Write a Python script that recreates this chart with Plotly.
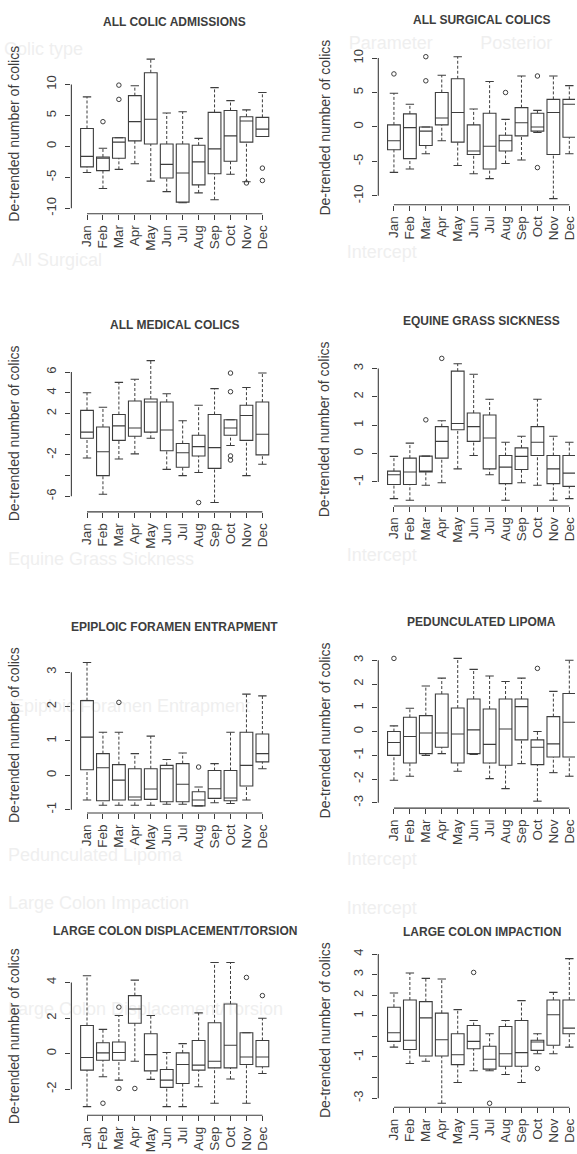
import plotly.graph_objects as go

W, H = 577, 1154

months = ["Jan", "Feb", "Mar", "Apr", "May", "Jun", "Jul", "Aug", "Sep", "Oct", "Nov", "Dec"]
month_idx = list(range(1, 13))
ylabel = "De-trended number of colics"

# ---------------- data ----------------
# ALL COLIC ADMISSIONS
p1_title = "ALL COLIC ADMISSIONS"
p1_q1 = [-3.3, -3.9, -1.9, 0.9, 0.4, -5.1, -9.0, -6.2, -4.4, -2.4, 0.7, 1.6]
p1_med = [-1.6, -1.9, 0.7, 4.0, 4.4, -2.9, -4.3, -2.5, -0.4, 1.7, 4.1, 2.8]
p1_q3 = [2.9, -1.7, 1.4, 8.2, 11.9, 0.4, 0.4, 0.2, 5.5, 5.8, 4.8, 4.7]
p1_lo = [-4.2, -6.8, -3.7, -2.8, -5.6, -7.3, -9.1, -7.5, -8.6, -4.5, -5.7, 1.6]
p1_hi = [8.0, -0.3, 1.4, 9.8, 14.1, 5.4, 5.6, 1.3, 9.5, 7.4, 5.9, 8.7]
p1_out_m = [2, 3, 3, 11, 12, 12]
p1_out_v = [4.0, 9.9, 7.6, -5.9, -3.5, -5.5]
p1_yticks = [-10, -5, 0, 5, 10]
p1_ytext = ["-10", "-5", "0", "5", "10"]

# ALL SURGICAL COLICS
p2_title = "ALL SURGICAL COLICS"
p2_q1 = [-3.3, -4.6, -2.7, 0.3, -2.2, -4.0, -6.1, -3.5, -1.3, -0.6, -4.0, -1.5]
p2_med = [-2.0, -0.1, -0.6, 1.3, 2.1, -3.5, -2.8, -2.0, 0.6, 0.0, 2.1, 3.3]
p2_q3 = [0.3, 1.9, 0.0, 5.0, 7.0, 0.3, 2.0, -1.2, 2.8, 2.0, 4.0, 4.0]
p2_lo = [-6.6, -6.1, -3.9, -2.0, -5.6, -6.8, -7.5, -5.3, -4.8, -0.8, -10.4, -3.9]
p2_hi = [4.9, 3.3, 0.0, 7.5, 10.2, 2.6, 6.6, 1.1, 7.4, 2.4, 7.4, 6.0]
p2_out_m = [1, 3, 3, 8, 10, 10]
p2_out_v = [7.7, 10.2, 6.7, 5.0, 7.4, -5.9]
p2_yticks = [-10, -5, 0, 5, 10]
p2_ytext = ["-10", "-5", "0", "5", "10"]

# ALL MEDICAL COLICS
p3_title = "ALL MEDICAL COLICS"
p3_q1 = [-0.4, -4.0, -0.6, -0.2, 0.2, -1.6, -3.2, -2.1, -3.3, -0.1, -0.6, -2.0]
p3_med = [0.2, -1.7, 0.8, 0.6, 3.1, 0.4, -1.8, -1.2, -1.3, 0.6, 1.8, 0.0]
p3_q3 = [2.3, 0.7, 1.9, 3.2, 3.4, 3.1, -0.9, -0.1, 1.9, 1.4, 2.8, 3.1]
p3_lo = [-2.3, -5.8, -2.4, -1.9, -0.4, -3.4, -4.0, -3.7, -6.6, -1.1, -4.0, -2.9]
p3_hi = [4.0, 2.6, 5.0, 5.3, 7.1, 3.9, 1.3, 2.8, 4.4, 1.4, 4.5, 5.9]
p3_out_m = [8, 10, 10, 10, 10]
p3_out_v = [-6.6, 5.9, 4.1, -2.1, -2.5]
p3_yticks = [-6, -4, -2, 0, 2, 4, 6]
p3_ytext = ["-6", "", "-2", "", "2", "4", "6"]

# EQUINE GRASS SICKNESS
p4_title = "EQUINE GRASS SICKNESS"
p4_q1 = [-1.09, -1.09, -0.65, -0.16, 0.84, 0.43, -0.54, -1.06, -0.56, -0.07, -1.06, -1.16]
p4_med = [-0.75, -0.65, -0.62, 0.43, 1.06, 0.95, 0.55, -0.48, -0.10, 0.40, -0.54, -0.69]
p4_q3 = [-0.62, -0.16, -0.09, 0.95, 2.91, 1.43, 1.36, -0.07, 0.20, 0.95, -0.07, -0.07]
p4_lo = [-1.59, -1.65, -1.12, -1.03, -0.54, -0.07, -0.75, -1.65, -1.03, -1.12, -1.65, -1.59]
p4_hi = [-0.10, 0.37, -0.09, 1.16, 3.17, 2.80, 1.92, 0.40, 0.61, 1.92, 0.61, 0.40]
p4_out_m = [3, 4]
p4_out_v = [1.19, 3.36]
p4_yticks = [-1, 0, 1, 2, 3]
p4_ytext = ["-1", "0", "1", "2", "3"]

# EPIPLOIC FORAMEN ENTRAPMENT
p5_title = "EPIPLOIC FORAMEN ENTRAPMENT"
p5_q1 = [0.16, -0.74, -0.72, -0.72, -0.70, -0.77, -0.77, -0.89, -0.67, -0.74, -0.31, 0.39]
p5_med = [1.11, 0.22, -0.14, -0.63, -0.40, 0.19, -0.26, -0.72, -0.39, -0.66, 0.29, 0.63]
p5_q3 = [2.17, 0.63, 0.31, 0.19, 0.19, 0.29, 0.34, -0.48, 0.14, 0.14, 1.25, 1.20]
p5_lo = [-0.72, -0.87, -0.87, -0.87, -0.87, -0.84, -0.84, -0.89, -0.80, -0.82, -0.72, 0.19]
p5_hi = [3.28, 1.25, 1.25, 0.63, 1.14, 0.46, 0.65, -0.34, 0.34, 1.25, 2.36, 2.31]
p5_out_m = [3, 8]
p5_out_v = [2.12, 0.24]
p5_yticks = [-1, 0, 1, 2, 3]
p5_ytext = ["-1", "0", "1", "2", "3"]

# PEDUNCULATED LIPOMA
p6_title = "PEDUNCULATED LIPOMA"
p6_q1 = [-1.0, -1.32, -0.93, -0.66, -1.32, -0.93, -1.32, -1.42, -0.35, -1.39, -1.07, -1.07]
p6_med = [-0.46, -0.21, -0.06, -0.06, -0.10, 0.07, -0.54, 0.11, 1.05, -0.66, -0.52, 0.39]
p6_q3 = [0.0, 0.6, 0.67, 1.58, 0.99, 1.37, 0.95, 1.37, 1.37, -0.35, 0.63, 1.60]
p6_lo = [-2.05, -1.88, -1.0, -0.93, -1.67, -0.96, -1.98, -2.40, -1.35, -2.93, -1.73, -1.88]
p6_hi = [0.24, 0.98, 1.92, 2.25, 3.08, 2.62, 2.34, 2.11, 2.25, 0.0, 1.69, 3.0]
p6_out_m = [1, 10]
p6_out_v = [3.08, 2.66]
p6_yticks = [-3, -2, -1, 0, 1, 2, 3]
p6_ytext = ["-3", "-2", "-1", "0", "1", "2", "3"]

# LARGE COLON DISPLACEMENT/TORSION
p7_title = "LARGE COLON DISPLACEMENT/TORSION"
p7_q1 = [-0.93, -0.37, -0.37, 1.71, -0.97, -1.90, -1.68, -0.93, -0.80, -0.80, -0.61, -0.74]
p7_med = [-0.22, 0.04, 0.06, 2.51, -0.06, -1.49, -0.61, -0.65, -0.43, 0.47, -0.19, -0.19]
p7_q3 = [1.58, 0.61, 0.65, 3.26, 1.12, -0.89, 0.04, 0.74, 1.73, 2.79, 1.17, 0.74]
p7_lo = [-2.98, -1.30, -1.49, -0.43, -1.45, -2.98, -2.98, -1.86, -2.79, -1.43, -2.79, -1.12]
p7_hi = [4.38, 1.36, 2.14, 4.13, 2.14, 0.06, 0.56, 2.29, 5.12, 5.12, 1.17, 1.99]
p7_out_m = [2, 3, 3, 4, 11, 12]
p7_out_v = [-2.79, 2.61, -1.96, -1.96, 4.28, 3.26]
p7_yticks = [-2, 0, 2, 4]
p7_ytext = ["-2", "0", "2", "4"]

# LARGE COLON IMPACTION
p8_title = "LARGE COLON IMPACTION"
p8_q1 = [-0.24, -0.64, -0.95, -0.95, -1.37, -0.60, -1.59, -1.45, -1.45, -0.68, -0.43, 0.13]
p8_med = [0.18, -0.19, 0.90, -0.16, -0.89, -0.24, -1.11, -0.84, -0.79, -0.27, 1.05, 0.40]
p8_q3 = [1.42, 1.77, 1.69, 1.13, 0.13, 0.53, -0.48, 0.48, 0.77, -0.19, 1.77, 1.77]
p8_lo = [-0.52, -1.32, -1.21, -3.25, -2.24, -1.67, -1.67, -1.85, -2.24, -0.84, -0.84, -0.52]
p8_hi = [2.11, 3.08, 2.82, 2.79, 1.30, 0.77, 0.13, 0.77, 1.74, 0.13, 2.14, 3.78]
p8_out_m = [6, 7, 10]
p8_out_v = [3.11, -3.25, -1.56]
p8_yticks = [-3, -2, -1, 0, 1, 2, 3, 4]
p8_ytext = ["-3", "", "-1", "", "1", "2", "3", "4"]

# faint table text showing through the scanned page
bg_texts = ["Colic type", "Parameter", "Posterior", "All Surgical",
            "Intercept", "Equine Grass Sickness", "Intercept",
            "Epiploic Foramen Entrapment", "Pedunculated Lipoma", "Intercept",
            "Large Colon Impaction", "Intercept", "Large Colon Displacement/Torsion"]
bg_pos_x = [4, 350, 482, 12, 348, 8, 348, 12, 8, 348, 8, 348, 8]
bg_pos_y = [46, 40, 40, 258, 250, 559, 555, 707, 857, 861, 905, 910, 1012]

# ---------------- layout geometry (pixels) ----------------
panels = [
    dict(t=p1_title, q1=p1_q1, med=p1_med, q3=p1_q3, lo=p1_lo, hi=p1_hi, om=p1_out_m, ov=p1_out_v,
         yt=p1_yticks, ytx=p1_ytext, jan=87.3, zero=142.3, ppu=6.23, top=49, bot=210, ty=17),
    dict(t=p2_title, q1=p2_q1, med=p2_med, q3=p2_q3, lo=p2_lo, hi=p2_hi, om=p2_out_m, ov=p2_out_v,
         yt=p2_yticks, ytx=p2_ytext, jan=395.3, zero=122.7, ppu=6.93, top=46, bot=201, ty=15),
    dict(t=p3_title, q1=p3_q1, med=p3_med, q3=p3_q3, lo=p3_lo, hi=p3_hi, om=p3_out_m, ov=p3_out_v,
         yt=p3_yticks, ytx=p3_ytext, jan=87.3, zero=431.8, ppu=10.42, top=352, bot=510, ty=322),
    dict(t=p4_title, q1=p4_q1, med=p4_med, q3=p4_q3, lo=p4_lo, hi=p4_hi, om=p4_out_m, ov=p4_out_v,
         yt=p4_yticks, ytx=p4_ytext, jan=395.3, zero=451.3, ppu=28.5, top=350, bot=504, ty=318),
    dict(t=p5_title, q1=p5_q1, med=p5_med, q3=p5_q3, lo=p5_lo, hi=p5_hi, om=p5_out_m, ov=p5_out_v,
         yt=p5_yticks, ytx=p5_ytext, jan=87.3, zero=775.0, ppu=34.6, top=656, bot=813, ty=626),
    dict(t=p6_title, q1=p6_q1, med=p6_med, q3=p6_q3, lo=p6_lo, hi=p6_hi, om=p6_out_m, ov=p6_out_v,
         yt=p6_yticks, ytx=p6_ytext, jan=395.3, zero=731.0, ppu=23.9, top=652, bot=808, ty=621),
    dict(t=p7_title, q1=p7_q1, med=p7_med, q3=p7_q3, lo=p7_lo, hi=p7_hi, om=p7_out_m, ov=p7_out_v,
         yt=p7_yticks, ytx=p7_ytext, jan=87.3, zero=1055.0, ppu=17.9, top=958, bot=1117, ty=932),
    dict(t=p8_title, q1=p8_q1, med=p8_med, q3=p8_q3, lo=p8_lo, hi=p8_hi, om=p8_out_m, ov=p8_out_v,
         yt=p8_yticks, ytx=p8_ytext, jan=395.3, zero=1037.7, ppu=20.7, top=954, bot=1109, ty=933),
]
PPM = 16.0  # pixels per month

INK = "#3d3d3d"
FONT = "Liberation Sans, Arial, sans-serif"

fig = go.Figure()
layout = dict(width=W, height=H, margin=dict(l=0, r=0, t=0, b=0, pad=0),
              paper_bgcolor="white", plot_bgcolor="rgba(0,0,0,0)",
              showlegend=False, font=dict(family=FONT, color=INK))
shapes = []
annotations = []

# background layer (first subplot, drawn beneath the panels)
fig.add_trace(go.Scatter(x=bg_pos_x, y=bg_pos_y, text=bg_texts, mode="text", textposition="middle right",
                         textfont=dict(size=18, color="#efefef", family="Liberation Sans, sans-serif"),
                         xaxis="x", yaxis="y", hoverinfo="skip", cliponaxis=False))
layout["xaxis"] = dict(domain=[0, 1], range=[0, W], visible=False, fixedrange=True)
layout["yaxis"] = dict(domain=[0, 1], range=[H, 0], visible=False, fixedrange=True)

for i, p in enumerate(panels):
    n = i + 2
    xa, ya = f"x{n}", f"y{n}"
    xmin = 0.02
    left_px = p["jan"] - (1 - xmin) * PPM
    right_px = p["jan"] + 11.98 * PPM
    xmax = 12.98
    if right_px > W:
        right_px = W
        xmax = 1 + (W - p["jan"]) / PPM
    ymin = (p["zero"] - p["bot"]) / p["ppu"]
    ymax = (p["zero"] - p["top"]) / p["ppu"]

    # boxes
    fig.add_trace(go.Box(x=month_idx, q1=p["q1"], median=p["med"], q3=p["q3"],
                         lowerfence=p["q1"], upperfence=p["q3"], width=0.8, whiskerwidth=0,
                         boxpoints=False, fillcolor="rgba(0,0,0,0)",
                         line=dict(color=INK, width=1.1), xaxis=xa, yaxis=ya, hoverinfo="skip"))
    # dashed whiskers
    wx, wy = [], []
    for m, a, b, c, d in zip(month_idx, p["lo"], p["q1"], p["q3"], p["hi"]):
        wx += [m, m, None, m, m, None]
        wy += [a, b, None, c, d, None]
    fig.add_trace(go.Scatter(x=wx, y=wy, mode="lines", line=dict(color=INK, width=1, dash="3px,2px"),
                             xaxis=xa, yaxis=ya, hoverinfo="skip"))
    # staples
    fig.add_trace(go.Scatter(x=month_idx + month_idx, y=p["lo"] + p["hi"], mode="markers",
                             marker=dict(symbol="line-ew", size=6, line=dict(color=INK, width=1.1)),
                             xaxis=xa, yaxis=ya, hoverinfo="skip"))
    # outliers
    fig.add_trace(go.Scatter(x=p["om"], y=p["ov"], mode="markers",
                             marker=dict(symbol="circle-open", size=4.5, color=INK, line=dict(width=1)),
                             xaxis=xa, yaxis=ya, hoverinfo="skip"))

    layout[f"xaxis{n}"] = dict(
        domain=[left_px / W, right_px / W], range=[xmin, xmax], anchor=ya,
        tickmode="array", tickvals=month_idx, ticktext=months, tickangle=-90,
        ticks="outside", ticklen=5, tickwidth=1, tickcolor=INK, ticklabeloverflow="allow",
        showgrid=False, zeroline=False, showline=False,
        tickfont=dict(size=13.5, color=INK, family=FONT), fixedrange=True)
    layout[f"yaxis{n}"] = dict(
        domain=[1 - p["bot"] / H, 1 - p["top"] / H], range=[ymin, ymax], anchor=xa,
        tickmode="array", tickvals=p["yt"], ticktext=p["ytx"], tickangle=-90,
        ticks="outside", ticklen=5, tickwidth=1, tickcolor=INK, ticklabelstandoff=4,
        ticklabeloverflow="allow",
        showgrid=False, zeroline=False, showline=False,
        tickfont=dict(size=13, color=INK, family=FONT), fixedrange=True)

    # R-style axis lines spanning first to last tick
    shapes.append(dict(type="line", xref=xa, yref=f"{ya} domain", x0=month_idx[0], x1=month_idx[-1],
                       y0=0, y1=0, line=dict(color=INK, width=1.1)))
    shapes.append(dict(type="line", xref=f"{xa} domain", yref=ya, x0=0, x1=0,
                       y0=p["yt"][0], y1=p["yt"][-1], line=dict(color=INK, width=1.1)))

    # title
    cx = (p["jan"] - (1 - xmin) * PPM + p["jan"] + 11.98 * PPM) / 2
    annotations.append(dict(text=f"<b>{p['t']}</b>", x=cx / W, y=1 - p["ty"] / H, xref="paper", yref="paper",
                            xanchor="center", yanchor="middle", showarrow=False,
                            font=dict(size=12, color=INK, family=FONT)))
    # y label
    lx = 14 if p["jan"] < 200 else 326
    annotations.append(dict(text=ylabel, x=lx / W, y=1 - (p["top"] + p["bot"]) / 2 / H,
                            xref="paper", yref="paper", xanchor="center", yanchor="middle",
                            textangle=-90, showarrow=False,
                            font=dict(size=14, color=INK, family=FONT)))

layout["shapes"] = shapes
layout["annotations"] = annotations
fig.update_layout(**layout)
fig.write_html("out.html")
